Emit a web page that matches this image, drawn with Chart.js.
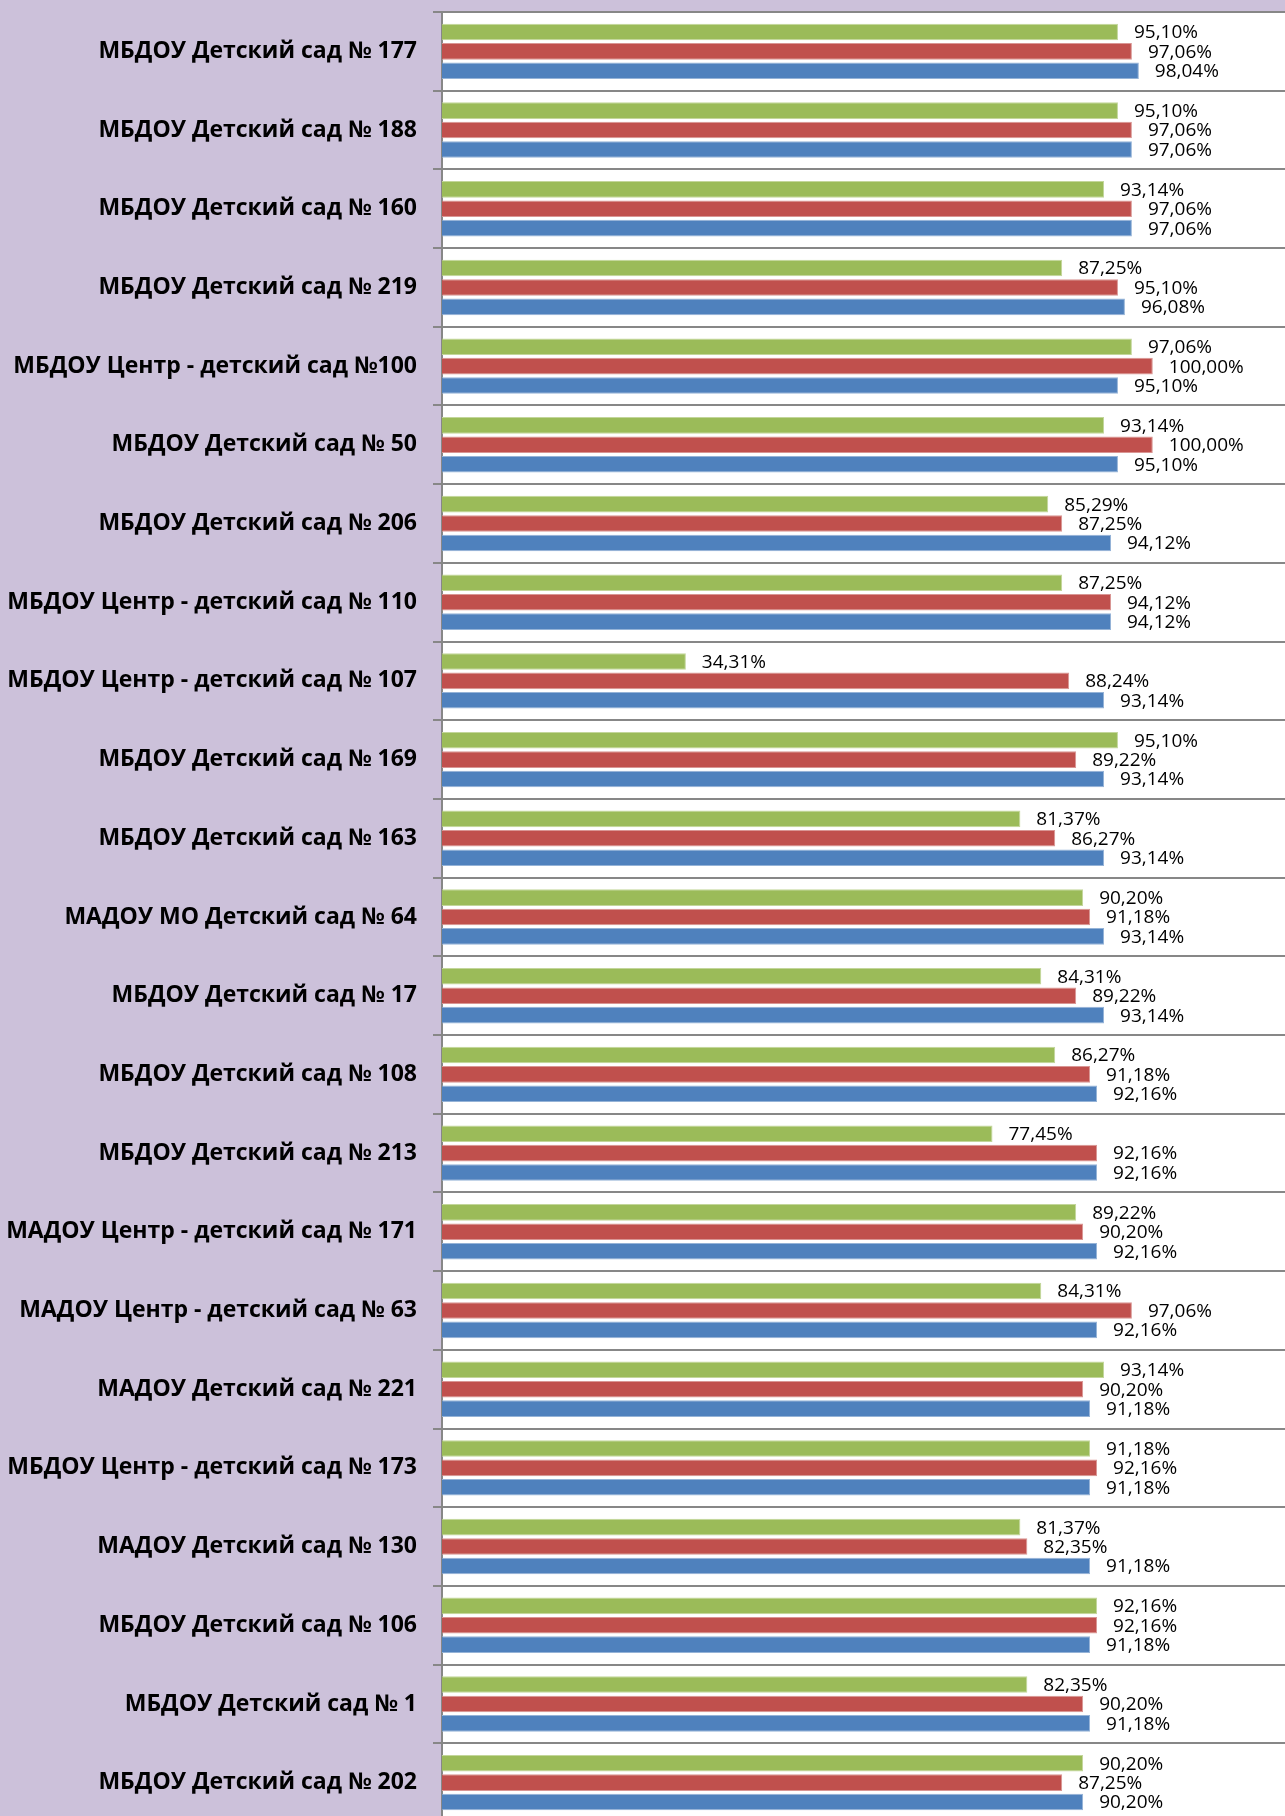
<!DOCTYPE html>
<html lang="ru">
<head>
  <meta charset="utf-8" />
  <title>Детские сады</title>
  <style>
html, body {
  margin: 0;
  padding: 0;
  background: #ccc1da;
  overflow: hidden;
  height: 1816px;
}
#chartContainer {
  width: 1285px;
  height: 1822px;
}
  </style>
</head>
<body>
  <div id="chartContainer">
    <canvas id="myChart"></canvas>
  </div>
  <script src="https://cdn.jsdelivr.net/npm/chart.js"></script>
  <script>
const categories = [
  'МБДОУ Детский сад № 177',
  'МБДОУ Детский сад № 188',
  'МБДОУ Детский сад № 160',
  'МБДОУ Детский сад № 219',
  'МБДОУ Центр - детский сад №100',
  'МБДОУ Детский сад № 50',
  'МБДОУ Детский сад № 206',
  'МБДОУ Центр - детский сад № 110',
  'МБДОУ Центр - детский сад № 107',
  'МБДОУ Детский сад № 169',
  'МБДОУ Детский сад № 163',
  'МАДОУ МО Детский сад № 64',
  'МБДОУ Детский сад № 17',
  'МБДОУ Детский сад № 108',
  'МБДОУ Детский сад № 213',
  'МАДОУ Центр - детский сад № 171',
  'МАДОУ Центр - детский сад № 63',
  'МАДОУ Детский сад № 221',
  'МБДОУ Центр - детский сад № 173',
  'МАДОУ Детский сад № 130',
  'МБДОУ Детский сад № 106',
  'МБДОУ Детский сад № 1',
  'МБДОУ Детский сад № 202'
];
// верхний (зелёный) ряд
const seriesGreen = [95.10, 95.10, 93.14, 87.25, 97.06, 93.14, 85.29, 87.25, 34.31, 95.10, 81.37, 90.20,
  84.31, 86.27, 77.45, 89.22, 84.31, 93.14, 91.18, 81.37, 92.16, 82.35, 90.20];
// средний (красный) ряд
const seriesRed = [97.06, 97.06, 97.06, 95.10, 100.00, 100.00, 87.25, 94.12, 88.24, 89.22, 86.27, 91.18,
  89.22, 91.18, 92.16, 90.20, 97.06, 90.20, 92.16, 82.35, 92.16, 90.20, 87.25];
// нижний (синий) ряд
const seriesBlue = [98.04, 97.06, 97.06, 96.08, 95.10, 95.10, 94.12, 94.12, 93.14, 93.14, 93.14, 93.14,
  93.14, 92.16, 92.16, 92.16, 92.16, 91.18, 91.18, 91.18, 91.18, 91.18, 90.20];

const plotBackground = {
  id: 'plotBackground',
  beforeDraw(chart) {
    const {ctx, chartArea} = chart;
    ctx.save();
    ctx.fillStyle = '#ffffff';
    ctx.fillRect(chartArea.left, chartArea.top, chartArea.right - chartArea.left, chartArea.bottom - chartArea.top);
    ctx.restore();
  }
};

const valueLabels = {
  id: 'valueLabels',
  afterDatasetsDraw(chart) {
    const ctx = chart.ctx;
    ctx.save();
    ctx.font = '19px "Open Sans"';
    ctx.fillStyle = '#000000';
    ctx.textBaseline = 'middle';
    chart.data.datasets.forEach((ds, i) => {
      chart.getDatasetMeta(i).data.forEach((bar, j) => {
        const txt = ds.data[j].toFixed(2).replace('.', ',') + '%';
        ctx.fillText(txt, bar.x + 16, bar.y + 1);
      });
    });
    ctx.restore();
  }
};

const ctx = document.getElementById('myChart');
const chart = new Chart(ctx, {
  type: 'bar',
  data: {
    labels: categories,
    datasets: [
      {label: 'Ряд 3', data: seriesGreen, backgroundColor: '#9bbb59', borderColor: '#c3d69b', borderWidth: 1},
      {label: 'Ряд 2', data: seriesRed, backgroundColor: '#c0504d', borderColor: '#d99694', borderWidth: 1},
      {label: 'Ряд 1', data: seriesBlue, backgroundColor: '#4f81bd', borderColor: '#95b3d7', borderWidth: 1}
    ]
  },
  options: {
    indexAxis: 'y',
    responsive: true,
    maintainAspectRatio: false,
    animation: false,
    barPercentage: 0.855,
    categoryPercentage: 0.74,
    layout: {
      padding: {top: 12, right: 0, bottom: 0, left: 0}
    },
    scales: {
      x: {
        display: false,
        min: 0,
        max: 118.6
      },
      y: {
        afterFit: function(scale) {
          scale.width = 442;
          scale.paddingTop = 0;
          scale.paddingBottom = 0;
        },
        grid: {
          color: '#878787',
          lineWidth: 2,
          tickLength: 9,
          offset: true
        },
        border: {
          color: '#878787',
          width: 2
        },
        ticks: {
          color: '#000000',
          padding: 16,
          font: {family: '"Open Sans"', size: 23, weight: 'bold'}
        }
      }
    },
    plugins: {
      legend: {display: false},
      tooltip: {enabled: false}
    }
  },
  plugins: [plotBackground, valueLabels]
});
  </script>
</body>
</html>
